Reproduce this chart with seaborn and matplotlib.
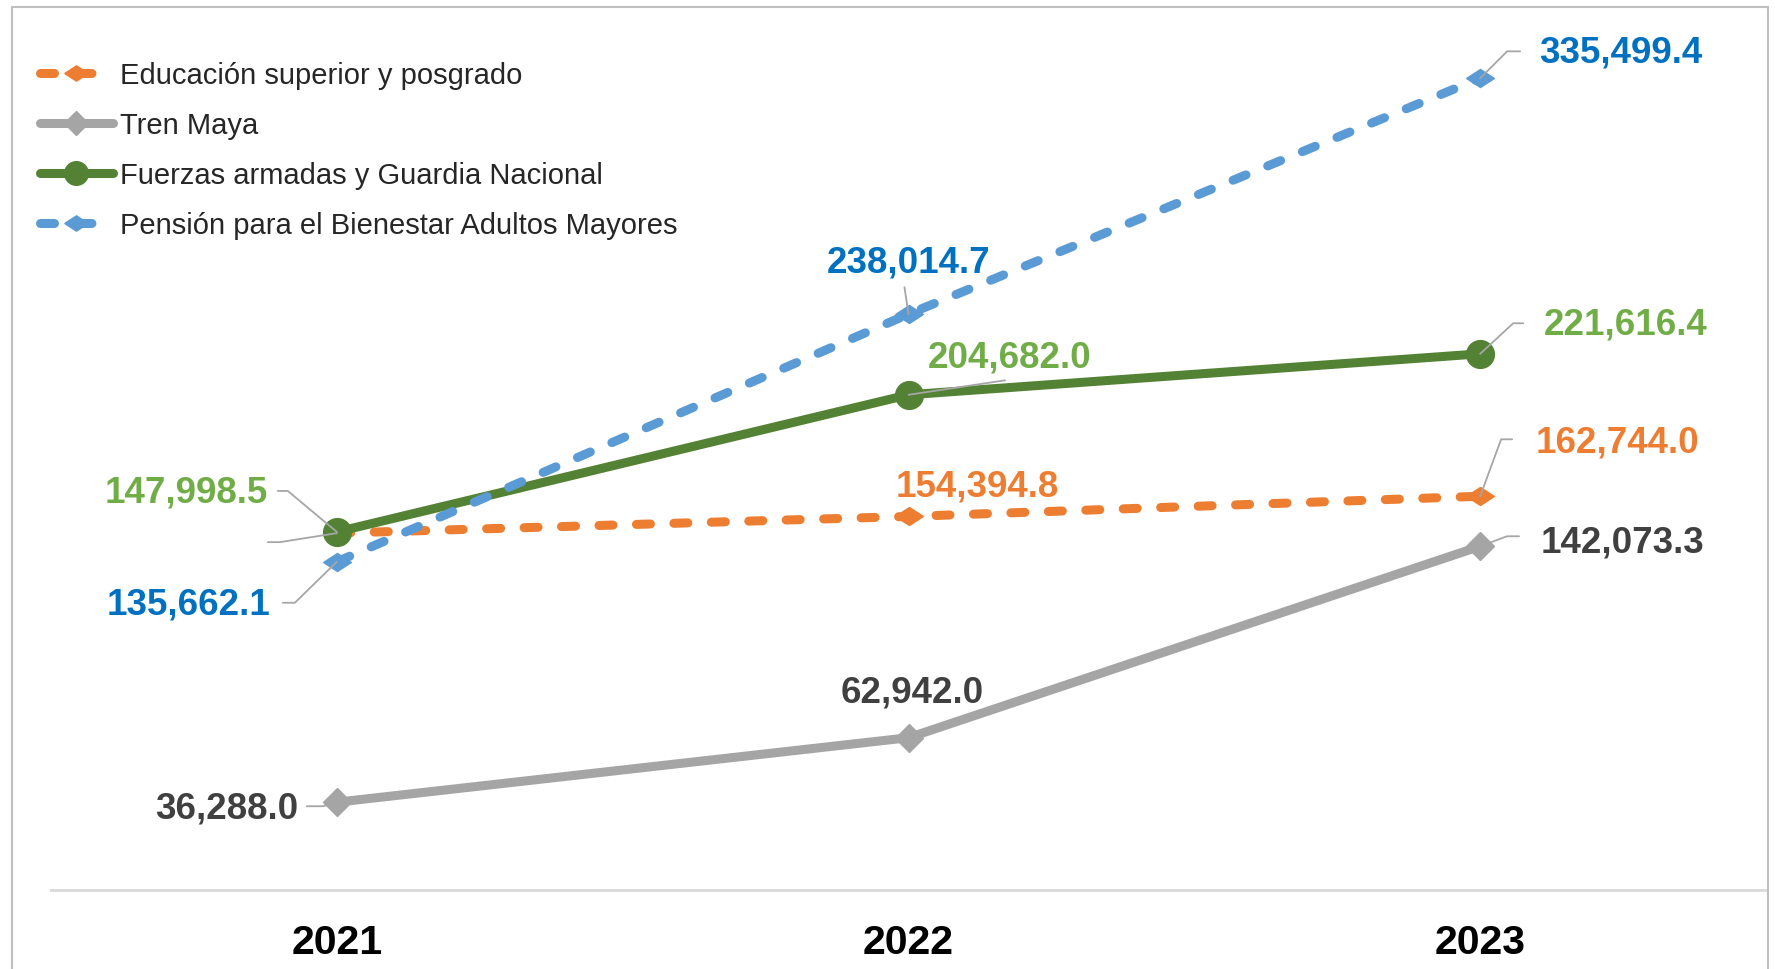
import matplotlib
matplotlib.use("Agg")
import matplotlib.pyplot as plt
from matplotlib.patches import Rectangle
import numpy as np
import pandas as pd
import seaborn as sns

# ── Datos (millones de pesos) ───────────────────────────────────────────────
years = ["2021", "2022", "2023"]
educacion = [147500.0, 154394.8, 162744.0]      # 2021 sin etiqueta en el original
tren_maya = [36288.0, 62942.0, 142073.3]
fuerzas = [147998.5, 204682.0, 221616.4]
pension = [135662.1, 238014.7, 335499.4]

series = [
    ("Educación superior y posgrado", educacion),
    ("Tren Maya", tren_maya),
    ("Fuerzas armadas y Guardia Nacional", fuerzas),
    ("Pensión para el Bienestar Adultos Mayores", pension),
]

# ── Estilo ──────────────────────────────────────────────────────────────────
sns.set_theme(style="white")
plt.rcParams["font.family"] = ["Liberation Sans", "DejaVu Sans"]

DIAMANTE = [(-1, 0), (0, 0.65), (1, 0), (0, -0.65), (-1, 0)]
GUION = (0, (1.55, 2.6))

estilos = {
    "Educación superior y posgrado": dict(color="#ED7D31", marker=DIAMANTE, markersize=20,
                                          linestyle=GUION, dash_capstyle="round", lw=6.5),
    "Tren Maya": dict(color="#A5A5A5", marker="D", markersize=14, linestyle="-", lw=6.5),
    "Fuerzas armadas y Guardia Nacional": dict(color="#548235", marker="o", markersize=20,
                                               linestyle="-", lw=6.5),
    "Pensión para el Bienestar Adultos Mayores": dict(color="#5B9BD5", marker=DIAMANTE,
                                                      markersize=20, linestyle=GUION,
                                                      dash_capstyle="round", lw=6.5),
}
color_etiqueta = {
    "Educación superior y posgrado": "#ED7D31",
    "Tren Maya": "#404040",
    "Fuerzas armadas y Guardia Nacional": "#70AD47",
    "Pensión para el Bienestar Adultos Mayores": "#0070C0",
}

# posición de cada etiqueta: (dx, dy en puntos, ha, línea guía en puntos, mostrar texto)
etiquetas = {
    "Educación superior y posgrado": [
        (0, 0, "right", [(-41, -6.5), (-49.7, -6.5)], False),
        (49.3, 21.6, "center", None, True),
        (39.6, 38.9, "left", [(15.1, 41), (23, 41)], True),
    ],
    "Tren Maya": [
        (-28, -4.3, "right", [(-10, -2.9), (-21.6, -2.9)], True),
        (2.5, 32.8, "center", None, True),
        (43.2, 2.9, "left", [(19.4, 7.2), (28, 7.2)], True),
    ],
    "Fuerzas armadas y Guardia Nacional": [
        (-49.7, 28.8, "right", [(-35.3, 29.5), (-42.5, 29.5)], True),
        (73, 27, "center", [(69.5, 10.4)], True),
        (46, 21.2, "left", [(23.8, 22), (31, 22)], True),
    ],
    "Pensión para el Bienestar Adultos Mayores": [
        (-47.5, -30.2, "right", [(-30.2, -29.5), (-38.9, -29.5)], True),
        (0, 37.4, "center", [(-2.9, 19.4)], True),
        (42.5, 18.7, "left", [(19.4, 19.4), (28.8, 19.4)], True),
    ],
}

fig = plt.figure(figsize=(17.75, 9.7), dpi=100)
ax = fig.add_axes([51 / 1775, 79 / 970, 1715 / 1775, 871 / 970])

pos = np.arange(len(years))
for nombre, valores in series:
    df = pd.DataFrame({"pos": pos, "valor": valores})
    est = estilos[nombre]
    sns.lineplot(data=df, x="pos", y="valor", ax=ax, label=nombre,
                 markeredgecolor=est["color"], markeredgewidth=1, errorbar=None, **est)

ax.set_xlim(-0.5, 2.5)
ax.set_ylim(0, 360000)
ax.set_xticks(pos)
ax.set_xticklabels(years, fontsize=29.5, fontweight="bold")
ax.tick_params(axis="x", length=0, pad=24, colors="black")
ax.set_yticks([])
ax.set_xlabel("")
ax.set_ylabel("")
for lado in ["left", "top", "right"]:
    ax.spines[lado].set_visible(False)
ax.spines["bottom"].set_color("#D9D9D9")
ax.spines["bottom"].set_linewidth(2)


def linea_guia(x, y, puntos_pt):
    base = ax.transData.transform((x, y))
    px = [base + np.array(p) * fig.dpi / 72 for p in [(0, 0)] + puntos_pt]
    datos = ax.transData.inverted().transform(np.array(px))
    ax.plot(datos[:, 0], datos[:, 1], color="#A6A6A6", lw=1.3, zorder=6)


# ── Etiquetas de datos ──────────────────────────────────────────────────────
for nombre, valores in series:
    for i, v in enumerate(valores):
        dx, dy, ha, guia, mostrar = etiquetas[nombre][i]
        if guia:
            linea_guia(i, v, guia)
        if mostrar:
            ax.annotate(f"{v:,.1f}", xy=(i, v), xytext=(dx, dy), textcoords="offset points",
                        ha=ha, va="center", fontsize=26.5, fontweight="bold",
                        color=color_etiqueta[nombre], zorder=7)

ax.legend(loc="upper left", bbox_to_anchor=(40 / 1775, 1 - 62 / 970),
          bbox_transform=fig.transFigure, frameon=False, fontsize=21,
          handlelength=2.5, handletextpad=0.25, labelspacing=0.76,
          borderpad=0, borderaxespad=0, numpoints=1, markerscale=0.85)

# marco gris del gráfico
fig.add_artist(Rectangle((12 / 1775, -0.05), 1756 / 1775, 962 / 970 + 0.05,
                         transform=fig.transFigure, fill=False,
                         edgecolor="#BFBFBF", lw=1.5))

fig.savefig("out.png", dpi=100)
